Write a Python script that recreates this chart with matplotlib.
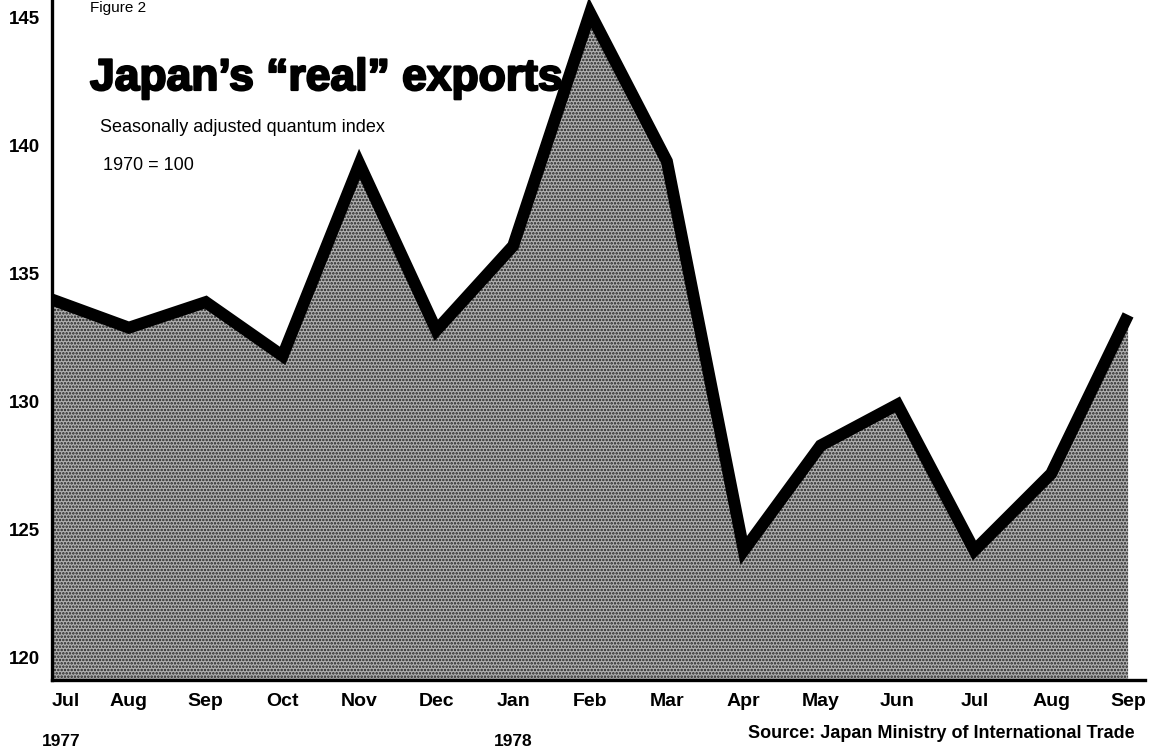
import matplotlib
matplotlib.use("Agg")
import matplotlib.pyplot as plt
import matplotlib.patheffects as pe
import matplotlib.transforms as mtransforms

months = ["Jul", "Aug", "Sep", "Oct", "Nov", "Dec", "Jan", "Feb", "Mar",
          "Apr", "May", "Jun", "Jul", "Aug", "Sep"]
values = [134.0, 132.9, 133.9, 131.8, 139.3, 132.8, 136.1, 145.2, 139.4,
          124.2, 128.3, 129.9, 124.2, 127.2, 133.4]
yticks = [120, 125, 130, 135, 140, 145]
year_labels = {0: "1977", 6: "1978"}

plt.rcParams['font.family'] = ['Liberation Sans', 'DejaVu Sans']
plt.rcParams['hatch.color'] = '#202020'
plt.rcParams['hatch.linewidth'] = 1.2

fig = plt.figure(figsize=(11.49, 7.48), dpi=100)
ax = fig.add_axes([52/1149, 1-680/748, (1145-52)/1149, 680/748])

x = list(range(len(months)))
ax.fill_between(x, values, 110, facecolor='#b0b0b0', hatch='.....',
                edgecolor='#202020', linewidth=0, zorder=1)
ax.plot(x, values, color='black', linewidth=8.6, solid_joinstyle='miter',
        solid_capstyle='butt', zorder=3)

ax.set_xlim(0, 14.22)
ax.set_ylim(119.14, 145.7)

for s in ['top', 'right']:
    ax.spines[s].set_visible(False)
ax.spines['left'].set_linewidth(2.4)
ax.spines['bottom'].set_linewidth(2.4)
ax.spines['left'].set_zorder(4)
ax.spines['bottom'].set_zorder(4)

ax.set_yticks(yticks)
ax.set_yticklabels([str(v) for v in yticks], fontsize=13.5, fontweight='bold')
ax.set_xticks(x)
ax.set_xticklabels(months, fontsize=14, fontweight='bold')
ax.tick_params(axis='both', length=0)
ax.tick_params(axis='y', pad=9)
ax.tick_params(axis='x', pad=9)
ax.get_xticklabels()[0].set_ha('left')

trans = mtransforms.blended_transform_factory(ax.transData, ax.transAxes)
for idx, lab in year_labels.items():
    ax.annotate(lab, xy=(idx, 0), xycoords=trans, xytext=(-10 if idx == 0 else 0, -61),
                textcoords='offset pixels', ha='left' if idx == 0 else 'center',
                va='center', fontsize=12.5, fontweight='bold')

fig.text(1135/1149, 1-733/748, "Source: Japan Ministry of International Trade",
         ha='right', va='center', fontsize=13, fontweight='bold')

t = fig.text(90/1149, 1-90/748, "Japan\u2019s \u201creal\u201d exports",
             ha='left', va='baseline', fontsize=32, fontweight='bold')
t.set_path_effects([pe.withStroke(linewidth=1.6, foreground='black')])

fig.text(100/1149, 1-128/748, "Seasonally adjusted quantum index",
         ha='left', va='center', fontsize=13)
fig.text(103/1149, 1-166/748, "1970 = 100", ha='left', va='center', fontsize=13)
fig.text(90/1149, 1-1/748, "Figure 2", ha='left', va='top', fontsize=11)

fig.savefig("out.png", dpi=100)
